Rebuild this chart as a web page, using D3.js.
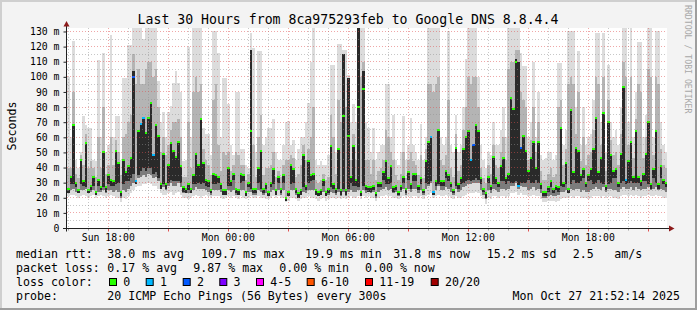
<!DOCTYPE html>
<html>
<head>
<meta charset="utf-8">
<title>Last 30 Hours from 8ca975293feb to Google DNS 8.8.4.4</title>
<script src="https://cdn.jsdelivr.net/npm/d3@7"></script>
<style>
    body { margin: 0; background: #f3f3f3; }
    svg { display: block; font-family: "DejaVu Sans Mono", monospace; }
</style>
</head>
<body>
<svg id="chart" width="697" height="310"></svg>
<script>
/**
 * smokeping style latency chart
 */

// One entry per 7.5 minute bucket, all values in milliseconds
var rttMedian = [
    26, 34, 68, 30, 25, 45, 31, 56, 25, 28, 34, 24, 32, 27, 50, 27, 35, 32, 31, 51, 43, 24, 45, 37, 41, 46, 100, 31, 64, 69,
    73, 63, 73, 83, 48, 68, 61, 29, 49, 29, 42, 56, 51, 47, 57, 41, 27, 26, 29, 26, 35, 49, 42, 72, 43, 32, 31, 25, 36, 35,
    34, 29, 25, 25, 40, 31, 36, 26, 25, 36, 35, 24, 30, 64, 26, 26, 40, 51, 26, 29, 24, 30, 39, 25, 34, 26, 35, 20, 24, 42,
    39, 26, 23, 25, 48, 28, 44, 35, 36, 25, 24, 25, 32, 24, 26, 54, 29, 26, 52, 25, 74, 25, 61, 34, 54, 32, 80, 24, 92, 28,
    27, 27, 28, 23, 30, 30, 37, 44, 33, 41, 27, 28, 24, 28, 34, 26, 37, 29, 36, 36, 28, 33, 25, 44, 57, 60, 24, 31, 65, 31,
    31, 38, 35, 30, 25, 53, 29, 33, 52, 60, 64, 45, 55, 68, 64, 33, 26, 23, 34, 28, 47, 33, 30, 41, 46, 33, 36, 86, 79, 110,
    28, 53, 61, 51, 38, 46, 57, 40, 57, 29, 24, 24, 27, 31, 26, 28, 27, 66, 30, 43, 26, 78, 37, 53, 51, 35, 39, 30, 35, 39,
    52, 73, 37, 46, 76, 28, 70, 48, 38, 39, 30, 49, 93, 32, 44, 57, 34, 64, 34, 31, 36, 49, 70, 29, 39, 64, 29, 41, 32, 30
];

// Fastest ping of the bucket
var rttMin = [
    21, 22, 22, 21, 20, 21, 22, 21, 20, 21, 22, 20, 21, 22, 21, 20, 21, 22, 21, 20, 20, 17, 20, 19, 21, 23, 25, 27, 28, 28,
    29, 29, 30, 29, 28, 28, 26, 23, 22, 22, 23, 24, 22, 23, 24, 22, 20, 20, 19, 20, 21, 22, 21, 20, 21, 22, 21, 20, 21, 21,
    21, 20, 19, 20, 21, 20, 21, 20, 19, 21, 20, 19, 20, 21, 20, 20, 21, 20, 20, 19, 19, 20, 21, 20, 21, 20, 20, 17, 18, 20,
    20, 19, 18, 19, 20, 20, 21, 20, 20, 19, 18, 19, 20, 18, 19, 20, 20, 19, 20, 19, 20, 19, 20, 21, 20, 20, 21, 19, 21, 20,
    21, 20, 20, 18, 20, 21, 21, 22, 21, 21, 20, 20, 19, 20, 21, 20, 21, 20, 21, 21, 20, 21, 19, 21, 22, 23, 20, 21, 22, 21,
    21, 22, 21, 20, 19, 21, 20, 20, 21, 22, 23, 23, 23, 24, 23, 21, 19, 16, 20, 19, 21, 21, 20, 21, 21, 20, 21, 23, 23, 24,
    22, 23, 22, 22, 21, 21, 22, 21, 21, 19, 17, 17, 18, 18, 18, 17, 18, 19, 20, 20, 20, 21, 20, 21, 21, 20, 20, 20, 19, 20,
    21, 21, 21, 20, 21, 20, 21, 21, 20, 20, 19, 21, 22, 22, 21, 22, 21, 22, 21, 20, 21, 21, 22, 21, 21, 22, 21, 21, 20, 20
];

// Lower quartile of the pings
var rttLow = [
    24, 25, 26, 24, 23, 25, 25, 26, 23, 24, 25, 22, 24, 24, 25, 23, 25, 25, 24, 25, 24, 20, 25, 24, 26, 28, 30, 29, 33, 34,
    35, 34, 36, 35, 33, 34, 31, 26, 27, 25, 28, 30, 28, 28, 30, 27, 23, 23, 23, 23, 25, 27, 26, 26, 26, 25, 24, 22, 25, 25,
    25, 24, 22, 22, 25, 24, 25, 22, 22, 25, 25, 21, 24, 24, 22, 22, 25, 24, 22, 23, 21, 24, 25, 22, 25, 22, 25, 18, 21, 25,
    25, 22, 20, 22, 24, 23, 25, 25, 25, 22, 21, 22, 24, 21, 22, 24, 23, 22, 24, 21, 24, 21, 24, 25, 24, 24, 25, 21, 25, 23,
    24, 23, 24, 20, 24, 25, 26, 27, 25, 26, 23, 24, 21, 24, 26, 22, 26, 24, 26, 26, 23, 25, 22, 26, 28, 30, 22, 25, 28, 25,
    25, 27, 26, 24, 22, 26, 24, 25, 27, 28, 29, 29, 30, 30, 30, 25, 22, 19, 25, 23, 26, 25, 24, 26, 26, 25, 26, 28, 28, 30,
    26, 28, 27, 27, 25, 26, 27, 25, 26, 23, 20, 20, 21, 22, 21, 21, 22, 24, 24, 25, 23, 26, 25, 26, 26, 24, 25, 24, 24, 25,
    26, 27, 26, 25, 27, 24, 26, 26, 25, 25, 24, 26, 27, 26, 26, 27, 25, 27, 26, 25, 26, 26, 27, 25, 26, 27, 25, 26, 25, 24
];

// Ping just below the median (bottom of the dark core)
var rttCore = [
    23, 29, 29, 27, 23, 29, 28, 27, 23, 25, 28, 22, 28, 25, 27, 24, 29, 28, 28, 29, 30, 21, 29, 31, 31, 33, 36, 29, 35, 38,
    40, 38, 40, 40, 36, 37, 33, 26, 29, 26, 30, 32, 31, 31, 31, 30, 24, 23, 25, 23, 29, 29, 30, 29, 30, 28, 27, 23, 29, 29,
    30, 26, 22, 22, 28, 28, 32, 23, 22, 30, 31, 21, 27, 26, 23, 23, 30, 26, 23, 26, 21, 27, 29, 22, 30, 23, 30, 18, 21, 29,
    30, 23, 20, 22, 27, 25, 30, 31, 32, 22, 21, 22, 28, 21, 23, 27, 26, 23, 26, 22, 26, 22, 26, 30, 28, 28, 27, 21, 28, 25,
    24, 24, 25, 21, 27, 27, 32, 29, 29, 30, 24, 25, 22, 25, 30, 23, 32, 26, 31, 31, 25, 29, 23, 30, 29, 31, 22, 28, 29, 28,
    28, 33, 31, 27, 23, 28, 26, 29, 30, 31, 32, 31, 32, 33, 32, 29, 24, 20, 30, 25, 29, 29, 27, 31, 31, 29, 31, 30, 30, 31,
    27, 30, 30, 30, 32, 30, 30, 32, 30, 26, 21, 21, 24, 27, 23, 25, 24, 28, 27, 29, 23, 29, 32, 30, 30, 31, 33, 27, 31, 32,
    29, 30, 32, 30, 29, 25, 29, 30, 33, 33, 27, 30, 31, 29, 30, 31, 30, 30, 30, 28, 31, 31, 29, 26, 33, 30, 26, 33, 29, 27
];

// Upper quartile of the pings
var rttHigh = [
    40, 40, 90, 36, 33, 48, 42, 62, 40, 44, 40, 34, 60, 40, 80, 36, 42, 60, 42, 58, 50, 35, 60, 62, 70, 75, 115, 95, 105, 95,
    95, 105, 110, 110, 100, 105, 80, 50, 60, 48, 55, 65, 70, 70, 72, 60, 34, 34, 70, 40, 90, 100, 90, 95, 52, 45, 42, 35, 85, 95,
    55, 38, 50, 48, 50, 38, 42, 50, 48, 42, 42, 32, 36, 100, 55, 34, 60, 75, 35, 40, 40, 42, 50, 34, 38, 34, 42, 45, 45, 48,
    46, 34, 36, 42, 55, 45, 52, 60, 80, 32, 30, 32, 36, 32, 34, 75, 60, 36, 85, 70, 95, 80, 85, 45, 62, 45, 118, 100, 110, 45,
    45, 36, 45, 32, 38, 40, 45, 65, 60, 50, 45, 35, 32, 36, 50, 33, 45, 50, 44, 42, 35, 48, 33, 52, 95, 95, 90, 95, 100, 45,
    42, 48, 85, 40, 34, 62, 38, 42, 65, 80, 100, 95, 100, 100, 80, 40, 33, 30, 42, 36, 55, 42, 40, 50, 60, 45, 105, 110, 110, 118,
    118, 90, 85, 80, 45, 58, 80, 50, 70, 38, 32, 32, 36, 40, 34, 36, 80, 85, 42, 52, 95, 100, 95, 62, 90, 44, 60, 42, 48, 50,
    65, 100, 95, 55, 100, 38, 85, 58, 48, 50, 42, 62, 110, 100, 55, 100, 46, 72, 95, 90, 46, 60, 105, 100, 48, 100, 95, 52, 42, 40
];

// Slowest ping of the bucket
var rttMax = [
    100, 60, 124, 45, 40, 50, 74, 68, 66, 66, 45, 44, 111, 60, 116, 50, 55, 128, 60, 74, 74, 45, 99, 99, 121, 121, 133, 133, 133, 133,
    125, 133, 133, 133, 133, 133, 97, 70, 77, 60, 77, 81, 96, 104, 96, 90, 44, 45, 120, 60, 132, 132, 132, 132, 66, 62, 62, 48, 130, 130,
    116, 60, 99, 99, 82, 55, 48, 90, 90, 52, 52, 42, 40, 129, 119, 50, 117, 117, 55, 60, 66, 66, 72, 50, 45, 45, 55, 70, 71, 55,
    58, 45, 52, 60, 60, 70, 83, 110, 132, 45, 42, 44, 42, 42, 48, 108, 108, 50, 122, 122, 118, 118, 101, 70, 82, 70, 133, 133, 133, 70,
    66, 50, 66, 45, 50, 55, 55, 95, 95, 60, 75, 45, 42, 50, 74, 45, 55, 73, 55, 50, 45, 69, 45, 60, 132, 132, 132, 132, 132, 60,
    55, 60, 130, 55, 50, 75, 50, 55, 80, 112, 132, 132, 132, 132, 100, 55, 45, 40, 50, 48, 70, 55, 55, 65, 80, 60, 132, 132, 132, 132,
    132, 116, 107, 107, 60, 70, 110, 60, 90, 48, 45, 46, 50, 50, 45, 48, 109, 109, 55, 65, 130, 130, 130, 80, 117, 55, 80, 55, 60, 62,
    85, 129, 129, 70, 129, 50, 108, 70, 60, 65, 55, 80, 132, 132, 70, 132, 60, 90, 123, 123, 60, 75, 132, 132, 60, 130, 130, 70, 55, 50
];

// [bucket, top] where the dark core runs above the median
var coreTops = [[26, 104], [73, 118], [110, 115], [112, 99], [116, 132], [118, 104], [179, 112], [180, 110]];

// [bucket, lost pings out of 20], every other bucket lost nothing
var lossEvents = [[26, 2], [27, 1], [29, 1], [30, 1], [34, 1], [145, 1], [146, 1], [161, 1], [162, 2], [180, 1], [181, 2], [223, 1]];

var lossLabels = ["0", "1", "2", "3", "4-5", "6-10", "11-19", "20/20"];
var lossColors = ["#26ff00", "#00b8ff", "#0059ff", "#7e00ff", "#ff00ff", "#ff5500", "#ff0000", "#a10000"];

var yTickValues = [0, 10, 20, 30, 40, 50, 60, 70, 80, 90, 100, 110, 120, 130];
var xTickTimes = [
    new Date(2025, 9, 26, 18, 0), new Date(2025, 9, 27, 0, 0), new Date(2025, 9, 27, 6, 0),
    new Date(2025, 9, 27, 12, 0), new Date(2025, 9, 27, 18, 0)
];

var titleText = "Last 30 Hours from 8ca975293feb to Google DNS 8.8.4.4";
var rttLegend = ["38.0 ms avg", "109.7 ms max", "19.9 ms min", "31.8 ms now", "15.2 ms sd", "2.5", "am/s"];
var lossLegend = ["0.17 % avg", "9.87 % max", "0.00 % min", "0.00 % now"];
var probeText = "20 ICMP Echo Pings (56 Bytes) every 300s";
var stampText = "Mon Oct 27 21:52:14 2025";

window.addEventListener("load", function () {
    drawChart("chart");
});

function drawChart(svgId) {
    var svg = d3.select(`#${svgId}`),
        width = +svg.attr("width"),
        height = +svg.attr("height");

    var left = 67, top = 28, plotW = 600, plotH = 200;

    var start = new Date(2025, 9, 26, 15, 56, 0);
    var stepMs = 7.5 * 60 * 1000;
    var end = new Date(start.getTime() + rttMedian.length * stepMs);

    var x = d3.scaleTime().domain([start, end]).range([left, left + plotW]);
    var y = d3.scaleLinear().domain([0, 132.3]).range([top + plotH, top]);

    // Background, frame and canvas
    svg.append("rect").attr("width", width).attr("height", height).attr("fill", "#f3f3f3");
    svg.append("rect").attr("width", width).attr("height", 2).attr("fill", "#cfcfcf");
    svg.append("rect").attr("width", 2).attr("height", height).attr("fill", "#cfcfcf");
    svg.append("rect").attr("y", height - 2).attr("width", width).attr("height", 2).attr("fill", "#9e9e9e");
    svg.append("rect").attr("x", width - 2).attr("width", 2).attr("height", height).attr("fill", "#9e9e9e");
    svg.append("rect").attr("x", left).attr("y", top).attr("width", plotW).attr("height", plotH).attr("fill", "#ffffff");

    svg.append("clipPath").attr("id", "plotClip")
        .append("rect").attr("x", left).attr("y", top).attr("width", plotW).attr("height", plotH);

    var ext = {};
    coreTops.forEach(function (p) { ext[p[0]] = p[1]; });
    var lost = {};
    lossEvents.forEach(function (p) { lost[p[0]] = p[1]; });

    var steps = rttMedian.map(function (m, i) {
        return {
            t0: new Date(start.getTime() + i * stepMs),
            t1: new Date(start.getTime() + (i + 1) * stepMs),
            med: m, min: rttMin[i], low: rttLow[i], core: rttCore[i],
            high: rttHigh[i], max: rttMax[i],
            coreTop: Math.max(m, ext[i] || m),
            loss: lost[i] || 0
        };
    });

    var g = svg.append("g").attr("clip-path", "url(#plotClip)").attr("shape-rendering", "crispEdges");

    // Smoke: outer spread, quartiles, shade under the median, dark core
    drawBand(g, steps, x, y, "smokeOuter", "#dcdcdc", "min", "max");
    drawBand(g, steps, x, y, "smokeMid", "#b4b4b4", "low", "high");
    drawBand(g, steps, x, y, "smokeUnder", "#7c7c7c", "low", "med");
    drawBand(g, steps, x, y, "smokeCore", "#2a2a2a", "core", "coreTop");

    // Median marks coloured by loss
    g.selectAll(".median")
        .data(steps)
        .enter().append("rect")
        .attr("class", "median")
        .attr("x", function (d) { return x(d.t0); })
        .attr("width", function (d) { return x(d.t1) - x(d.t0); })
        .attr("y", function (d) { return y(d.med) - 1; })
        .attr("height", 2)
        .attr("fill", function (d) { return lossColors[lossBucket(d.loss)]; });

    // Grid
    var snap = function (v) { return Math.floor(v) + 0.5; };
    var grid = svg.append("g").attr("stroke-dasharray", "1,2").attr("stroke-width", 1).attr("fill", "none");

    var minorY = d3.range(5, 132, 10);
    grid.selectAll(".gy").data(minorY).enter().append("line")
        .attr("x1", left).attr("x2", left + plotW)
        .attr("y1", function (d) { return snap(y(d)); }).attr("y2", function (d) { return snap(y(d)); })
        .attr("stroke", "rgba(144,144,144,0.5)");

    var hours = d3.timeHour.range(start, end);
    var minorX = hours.filter(function (t) { return t.getHours() % 3 !== 0; });
    var majorX = hours.filter(function (t) { return t.getHours() % 3 === 0; });

    grid.selectAll(".gx").data(minorX).enter().append("line")
        .attr("x1", function (d) { return snap(x(d)); }).attr("x2", function (d) { return snap(x(d)); })
        .attr("y1", top).attr("y2", top + plotH)
        .attr("stroke", "rgba(144,144,144,0.5)");

    grid.selectAll(".my").data(yTickValues.slice(1)).enter().append("line")
        .attr("x1", left).attr("x2", left + plotW)
        .attr("y1", function (d) { return snap(y(d)); }).attr("y2", function (d) { return snap(y(d)); })
        .attr("stroke", "rgba(224,80,80,0.5)");

    grid.selectAll(".mx").data(majorX).enter().append("line")
        .attr("x1", function (d) { return snap(x(d)); }).attr("x2", function (d) { return snap(x(d)); })
        .attr("y1", top).attr("y2", top + plotH)
        .attr("stroke", "rgba(224,80,80,0.5)");

    // Axes
    var axisY = snap(y(0));
    var axes = svg.append("g").attr("stroke-width", 1);

    axes.selectAll(".tickMinor").data(minorX).enter().append("line")
        .attr("x1", function (d) { return snap(x(d)); }).attr("x2", function (d) { return snap(x(d)); })
        .attr("y1", axisY).attr("y2", axisY + 2)
        .attr("stroke", "#a0a0a0");
    axes.selectAll(".tickMajor").data(majorX).enter().append("line")
        .attr("x1", function (d) { return snap(x(d)); }).attr("x2", function (d) { return snap(x(d)); })
        .attr("y1", axisY).attr("y2", axisY + 3)
        .attr("stroke", "#e05050");

    axes.append("line").attr("x1", left - 4).attr("x2", left + plotW + 3)
        .attr("y1", axisY).attr("y2", axisY).attr("stroke", "#202020");
    axes.append("line").attr("x1", left - 0.5).attr("x2", left - 0.5)
        .attr("y1", axisY + 3).attr("y2", top - 2).attr("stroke", "#202020");

    axes.append("path")
        .attr("d", `M${left - 3.5},${top - 1.5}L${left - 0.5},${top - 7}L${left + 2.5},${top - 1.5}Z`)
        .attr("fill", "#8c1a1a");
    axes.append("path")
        .attr("d", `M${left + plotW + 2},${axisY - 3}L${left + plotW + 7.5},${axisY}L${left + plotW + 2},${axisY + 3}Z`)
        .attr("fill", "#8c1a1a");

    svg.append("g")
        .attr("transform", `translate(${left - 0.5},0)`)
        .style("font-family", "DejaVu Sans Mono")
        .style("font-size", "9.8px")
        .call(d3.axisLeft(y).tickValues(yTickValues).tickSize(3).tickPadding(4)
            .tickFormat(function (v) { return v === 0 ? "0" : v + " m"; }))
        .call(function (a) {
            a.select(".domain").remove();
            a.selectAll(".tick line").attr("stroke", "#202020");
            a.selectAll(".tick text").attr("fill", "#000");
        });

    svg.append("g").selectAll("text")
        .data(xTickTimes)
        .enter().append("text")
        .attr("x", function (d) { return x(d); })
        .attr("y", 241)
        .attr("text-anchor", "middle")
        .style("font-size", "9.8px")
        .text(d3.timeFormat("%a %H:%M"));

    // Title and side labels
    svg.append("text")
        .attr("x", 348).attr("y", 23.5)
        .attr("text-anchor", "middle")
        .style("font-size", "13.2px")
        .text(titleText);

    svg.append("text")
        .attr("transform", "translate(15.5,126) rotate(-90)")
        .attr("text-anchor", "middle")
        .style("font-size", "11.6px")
        .text("Seconds");

    svg.append("text")
        .attr("transform", "translate(685,5) rotate(90)")
        .attr("fill", "#a8a8a8")
        .style("font-size", "8.2px")
        .text("RRDTOOL / TOBI OETIKER");

    // Legend
    var legend = svg.append("g").style("font-size", "11.6px");
    var rowY = [258.3, 272, 285.8, 299.5];
    var valueX = 107.3;

    legend.append("text").attr("x", 16).attr("y", rowY[0]).text("median rtt:");
    var rttX = [107.3, 201, 305, 393.3, 486.7, 572.7, 614.3];
    legend.selectAll(".rtt").data(rttLegend).enter().append("text")
        .attr("x", function (d, i) { return rttX[i]; }).attr("y", rowY[0])
        .text(function (d) { return d; });

    legend.append("text").attr("x", 16).attr("y", rowY[1]).text("packet loss:");
    var lossX = [107.3, 193.3, 279.3, 365];
    legend.selectAll(".loss").data(lossLegend).enter().append("text")
        .attr("x", function (d, i) { return lossX[i]; }).attr("y", rowY[1])
        .text(function (d) { return d; });

    legend.append("text").attr("x", 16).attr("y", rowY[2]).text("loss color:");
    var boxX = [109, 145.7, 182.7, 219.3, 256, 306.7, 365, 430.7];
    legend.selectAll(".lbox").data(lossColors).enter().append("rect")
        .attr("x", function (d, i) { return boxX[i] + 0.5; }).attr("y", 278.5)
        .attr("width", 7).attr("height", 7)
        .attr("fill", function (d) { return d; })
        .attr("stroke", "#000").attr("stroke-width", 1);
    legend.selectAll(".ltext").data(lossLabels).enter().append("text")
        .attr("x", function (d, i) { return boxX[i] + 14.3; }).attr("y", rowY[2])
        .text(function (d) { return d; });

    legend.append("text").attr("x", 16).attr("y", rowY[3]).text("probe:");
    legend.append("text").attr("x", valueX).attr("y", rowY[3]).text(probeText);
    legend.append("text").attr("x", 680).attr("y", rowY[3]).attr("text-anchor", "end").text(stampText);
}

function drawBand(g, steps, x, y, cls, color, lowKey, highKey) {
    g.selectAll("." + cls)
        .data(steps)
        .enter().append("rect")
        .attr("class", cls)
        .attr("x", function (d) { return x(d.t0); })
        .attr("width", function (d) { return x(d.t1) - x(d.t0); })
        .attr("y", function (d) { return y(d[highKey]); })
        .attr("height", function (d) { return Math.max(1, y(d[lowKey]) - y(d[highKey])); })
        .attr("fill", color);
}

function lossBucket(n) {
    if (n <= 3) return n;
    if (n <= 5) return 4;
    if (n <= 10) return 5;
    if (n <= 19) return 6;
    return 7;
}
</script>
</body>
</html>
